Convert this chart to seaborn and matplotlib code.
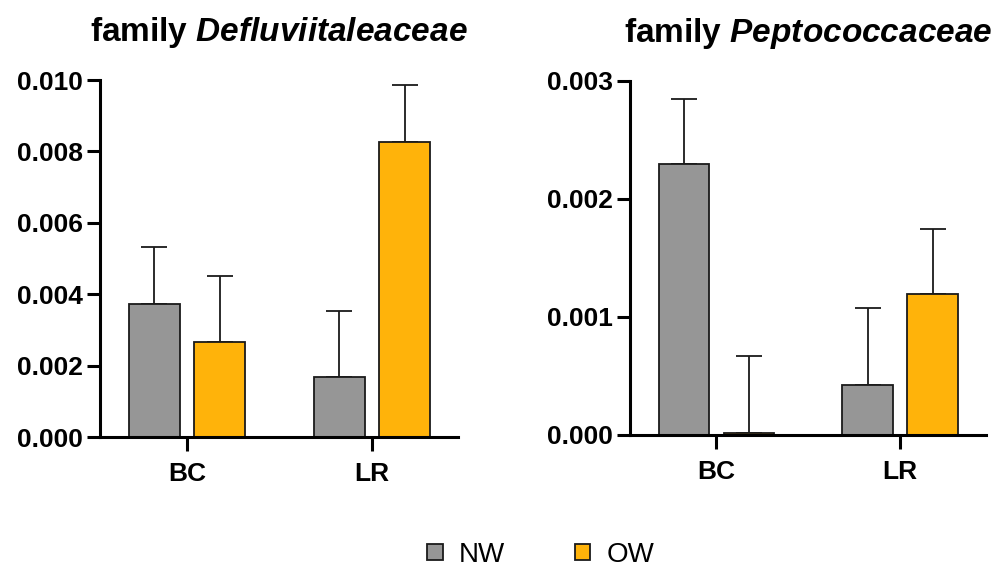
"""
plot.py

Grouped bar charts (mean + upper SEM) of two bacterial families
for NW and OW groups in BC and LR samples.
"""

import matplotlib
matplotlib.use("Agg")
import matplotlib.pyplot as plt
from matplotlib.patches import Patch
from matplotlib.ticker import FormatStrFormatter
import numpy as np
import pandas as pd
import seaborn as sns

# Data
categories = ["BC", "LR"]
groups = ["NW", "OW"]

defl_nw = [0.00374, 0.00167]
defl_ow = [0.00265, 0.00826]
defl_nw_err = [0.00159, 0.00186]
defl_ow_err = [0.00187, 0.00159]

pepto_nw = [0.002292, 0.000423]
pepto_ow = [0.00002, 0.001191]
pepto_nw_err = [0.000553, 0.00065]
pepto_ow_err = [0.000651, 0.000556]

COLORS = {"NW": "#969696", "OW": "#FFB30A"}
EDGE = "#1a1a1a"
LW = 1.3


def make_frame(nw, ow):
    return pd.DataFrame({
        "sample": categories * 2,
        "group": ["NW"] * len(categories) + ["OW"] * len(categories),
        "value": list(nw) + list(ow),
    })


def draw_panel(ax, df, errs, ylim, yticks, title):
    sns.barplot(data=df, x="sample", y="value", hue="group", hue_order=groups,
                palette=COLORS, saturation=1, width=0.708, gap=0.22,
                errorbar=None, edgecolor=EDGE, linewidth=LW, legend=False,
                ax=ax, zorder=2)
    # upper error bars only
    for cont, err in zip(ax.containers, errs):
        xs = [p.get_x() + p.get_width() / 2 for p in cont]
        hs = [p.get_height() for p in cont]
        ax.errorbar(xs, hs, yerr=[np.zeros(len(err)), err], fmt="none",
                    ecolor=EDGE, elinewidth=LW, capsize=9.4, capthick=LW,
                    zorder=1)
    ax.set_xlim(-0.47, 1.465)
    ax.set_ylim(*ylim)
    ax.set_yticks(yticks)
    ax.yaxis.set_major_formatter(FormatStrFormatter("%.3f"))
    ax.set_xlabel("")
    ax.set_ylabel("")
    ax.set_title(title, fontsize=24, fontweight="bold", pad=28, color="black")
    for s in ["top", "right"]:
        ax.spines[s].set_visible(False)
    for s in ["left", "bottom"]:
        ax.spines[s].set_linewidth(2.2)
        ax.spines[s].set_color("black")
    ax.tick_params(axis="y", left=True, length=9.4, width=2.2, labelsize=19,
                   pad=3, colors="black")
    ax.tick_params(axis="x", bottom=True, length=10, width=2.2, labelsize=19,
                   pad=8, colors="black")
    for lab in ax.get_xticklabels() + ax.get_yticklabels():
        lab.set_fontweight("bold")


if __name__ == "__main__":
    sns.set_style("ticks")
    plt.rcParams["font.family"] = ["Liberation Sans", "DejaVu Sans"]
    plt.rcParams["text.color"] = "black"
    plt.rcParams["mathtext.fontset"] = "custom"
    plt.rcParams["mathtext.bfit"] = "Liberation Sans:italic:bold"
    plt.rcParams["mathtext.it"] = "Liberation Sans:italic"
    plt.rcParams["mathtext.bf"] = "Liberation Sans:bold"
    plt.rcParams["mathtext.rm"] = "Liberation Sans"

    fig = plt.figure(figsize=(10.05, 5.68), dpi=100)
    ax1 = fig.add_axes([0.0995, 0.2306, 0.356, 0.6285])
    ax2 = fig.add_axes([0.6269, 0.2342, 0.354, 0.6238])

    draw_panel(ax1, make_frame(defl_nw, defl_ow), [defl_nw_err, defl_ow_err],
               (0, 0.010), np.arange(0, 0.0101, 0.002),
               r"family $\mathbfit{Defluviitaleaceae}$")
    draw_panel(ax2, make_frame(pepto_nw, pepto_ow), [pepto_nw_err, pepto_ow_err],
               (0, 0.003), np.arange(0, 0.00301, 0.001),
               r"family $\mathbfit{Peptococcaceae}$")

    handles = [Patch(facecolor=COLORS[g], edgecolor=EDGE, linewidth=LW, label=g)
               for g in groups]
    fig.legend(handles=handles, loc="center", bbox_to_anchor=(541 / 1005, 0.023),
               ncol=2, frameon=False, fontsize=20, handlelength=0.55,
               handleheight=0.55, handletextpad=0.6, columnspacing=2.5)

    fig.savefig("out.png", dpi=100)
